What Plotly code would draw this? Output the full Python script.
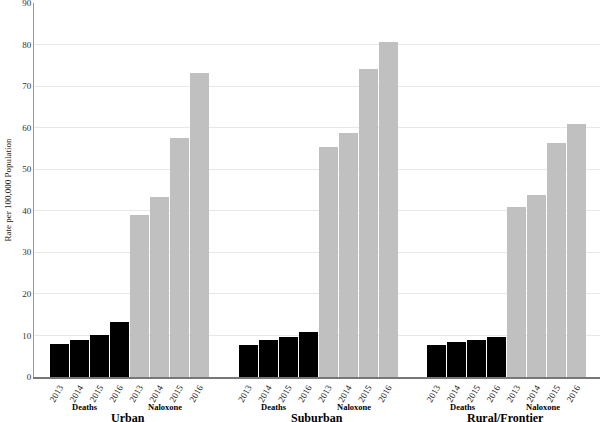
import plotly.graph_objects as go

groups = ["Urban", "Suburban", "Rural/Frontier"]
years = ["2013", "2014", "2015", "2016"]
measures = ["Deaths", "Naloxone"]

urban_deaths = [8.0, 9.0, 10.2, 13.3]
urban_naloxone = [39.0, 43.4, 57.4, 73.2]
suburban_deaths = [7.8, 9.0, 9.7, 10.9]
suburban_naloxone = [55.3, 58.7, 74.2, 80.7]
rural_deaths = [7.8, 8.4, 9.0, 9.6]
rural_naloxone = [40.9, 43.7, 56.2, 60.9]

y_ticks = list(range(0, 91, 10))

data = {
    "Urban": (urban_deaths, urban_naloxone),
    "Suburban": (suburban_deaths, suburban_naloxone),
    "Rural/Frontier": (rural_deaths, rural_naloxone),
}

GROUP_STEP = 9.43
FONT = "Liberation Serif"

fig = go.Figure()
tickvals, ticktext = [], []
annotations = []
for g, name in enumerate(groups):
    base = g * GROUP_STEP
    deaths, nalox = data[name]
    for m, (vals, color) in enumerate([(deaths, "#000000"), (nalox, "#c0c0c0")]):
        xs = [base + m * 4 + i for i in range(len(years))]
        fig.add_trace(go.Bar(
            x=xs, y=vals, width=0.95,
            marker=dict(color=color, line=dict(width=0)),
            showlegend=False, hoverinfo="y",
        ))
        tickvals += xs
        ticktext += years
        annotations.append(dict(
            x=base + m * 4 + 1.3, y=-0.079, xref="x", yref="paper",
            text=f"<b>{measures[m]}</b>", showarrow=False,
            font=dict(family=FONT, size=8.5, color="#000"),
            xanchor="center", yanchor="middle",
        ))
    annotations.append(dict(
        x=base + 3.45, y=-0.109, xref="x", yref="paper",
        text=f"<b>{name}</b>", showarrow=False,
        font=dict(family=FONT, size=12, color="#000"),
        xanchor="center", yanchor="middle",
    ))

fig.update_layout(
    width=600, height=422,
    margin=dict(l=34, r=0, t=3, b=45),
    paper_bgcolor="white", plot_bgcolor="white",
    bargap=0,
    font=dict(family=FONT, color="#333"),
    annotations=annotations,
    xaxis=dict(
        range=[-1.275, 27.03], automargin=False,
        tickvals=tickvals, ticktext=ticktext,
        tickangle=-60, tickfont=dict(family=FONT, size=9, color="#222"),
        showgrid=False, zeroline=False,
        showline=True, linecolor="#777", linewidth=1.5,
        ticks="", ticklen=0,
    ),
    yaxis=dict(
        range=[0, 90], tickvals=y_ticks, automargin=False,
        ticklabeloverflow="allow",
        tickfont=dict(family=FONT, size=9, color="#333"),
        showgrid=True, gridcolor="#e8e8e8", gridwidth=1,
        zeroline=False,
        showline=True, linecolor="#999", linewidth=1,
        ticks="",
        title=dict(text="Rate per 100,000 Population",
                   font=dict(family=FONT, size=9, color="#222"), standoff=9),
    ),
)

fig.write_html("out.html", config={"displayModeBar": False},
               post_script="document.body.style.margin='0';")
